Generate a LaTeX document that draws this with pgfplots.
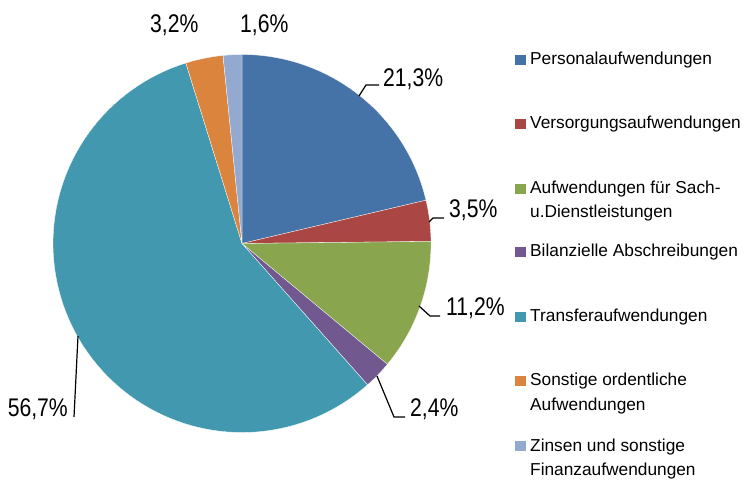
\documentclass[border=0pt]{standalone}
\usepackage{pgfplots}
\pgfplotsset{compat=1.18}
\usepackage{fontspec}
\setmainfont{Liberation Sans}
\newfontfamily\labelfont[FakeStretch=0.83]{Liberation Sans}
\definecolor{cPers}{HTML}{4572A7}
\definecolor{cVers}{HTML}{AA4643}
\definecolor{cSach}{HTML}{89A54E}
\definecolor{cBil}{HTML}{71588F}
\definecolor{cTrans}{HTML}{4198AF}
\definecolor{cSonst}{HTML}{DB843D}
\definecolor{cZins}{HTML}{93A9CF}
% slice: #1 colour, #2 cumulative share before, #3 share (percent)
\newcommand{\slice}[3]{%
  \pgfmathsetmacro\angA{90-3.603604*(#2+#3)}%
  \pgfmathsetmacro\angB{90-3.603604*(#2)}%
  \addplot[fill=#1, draw=white, line width=0.3bp, domain=\angA:\angB, samples=90, variable=\t]
    ({242+189*cos(\t)},{237.5+189*sin(\t)}) -- (axis cs:242,237.5) -- cycle;
}
\newcommand{\lab}{\labelfont\fontsize{25.5bp}{30bp}\selectfont}
\newcommand{\leg}{\fontsize{17.3bp}{21bp}\selectfont}
\begin{document}
\begin{tikzpicture}
\begin{axis}[
  scale only axis, width=745bp, height=481bp,
  xmin=0, xmax=745, ymin=0, ymax=481,
  hide axis, clip=false,
]
\path (axis cs:0,0) rectangle (axis cs:745,481);
% data (percent)
\slice{cPers}{0}{21.3}
\slice{cVers}{21.3}{3.5}
\slice{cSach}{24.8}{11.2}
\slice{cBil}{36.0}{2.4}
\slice{cTrans}{38.4}{56.7}
\slice{cSonst}{95.1}{3.2}
\slice{cZins}{98.3}{1.6}
% leader lines
\draw[line width=1.2bp] (axis cs:359,385) -- (axis cs:366,396) -- (axis cs:379,396);
\draw[line width=1.2bp] (axis cs:429,259) -- (axis cs:433,263) -- (axis cs:444,263);
\draw[line width=1.2bp] (axis cs:419,175) -- (axis cs:430,165) -- (axis cs:440,165);
\draw[line width=1.2bp] (axis cs:377,105) -- (axis cs:394,64) -- (axis cs:405,64);
\draw[line width=1.2bp] (axis cs:78,145) -- (axis cs:74,64);
% data labels
\node[anchor=base west, inner sep=0] at (axis cs:383,394) {\lab 21,3\%};
\node[anchor=base west, inner sep=0] at (axis cs:449,263) {\lab 3,5\%};
\node[anchor=base west, inner sep=0] at (axis cs:446,165) {\lab 11,2\%};
\node[anchor=base west, inner sep=0] at (axis cs:410,64) {\lab 2,4\%};
\node[anchor=base east, inner sep=0] at (axis cs:68,64) {\lab 56,7\%};
\node[anchor=base west, inner sep=0] at (axis cs:150,448) {\lab 3,2\%};
\node[anchor=base west, inner sep=0] at (axis cs:240,448) {\lab 1,6\%};
% legend
\fill[cPers]  (axis cs:515,416) rectangle (axis cs:526,426);
\fill[cVers]  (axis cs:515,352) rectangle (axis cs:526,362);
\fill[cSach]  (axis cs:515,287) rectangle (axis cs:526,297);
\fill[cBil]   (axis cs:515,224) rectangle (axis cs:526,234);
\fill[cTrans] (axis cs:515,159) rectangle (axis cs:526,169);
\fill[cSonst] (axis cs:515,95)  rectangle (axis cs:526,105);
\fill[cZins]  (axis cs:515,30)  rectangle (axis cs:526,40);
\node[anchor=base west, inner sep=0] at (axis cs:530,416) {\leg Personalaufwendungen};
\node[anchor=base west, inner sep=0] at (axis cs:530,352) {\leg Versorgungsaufwendungen};
\node[anchor=base west, inner sep=0] at (axis cs:530,287) {\leg Aufwendungen für Sach-};
\node[anchor=base west, inner sep=0] at (axis cs:530,263) {\leg u.Dienstleistungen};
\node[anchor=base west, inner sep=0] at (axis cs:530,224) {\leg Bilanzielle Abschreibungen};
\node[anchor=base west, inner sep=0] at (axis cs:530,159) {\leg Transferaufwendungen};
\node[anchor=base west, inner sep=0] at (axis cs:530,95) {\leg Sonstige ordentliche};
\node[anchor=base west, inner sep=0] at (axis cs:530,70) {\leg Aufwendungen};
\node[anchor=base west, inner sep=0] at (axis cs:530,30) {\leg Zinsen und sonstige};
\node[anchor=base west, inner sep=0] at (axis cs:530,6) {\leg Finanzaufwendungen};
\end{axis}
\end{tikzpicture}
\end{document}
